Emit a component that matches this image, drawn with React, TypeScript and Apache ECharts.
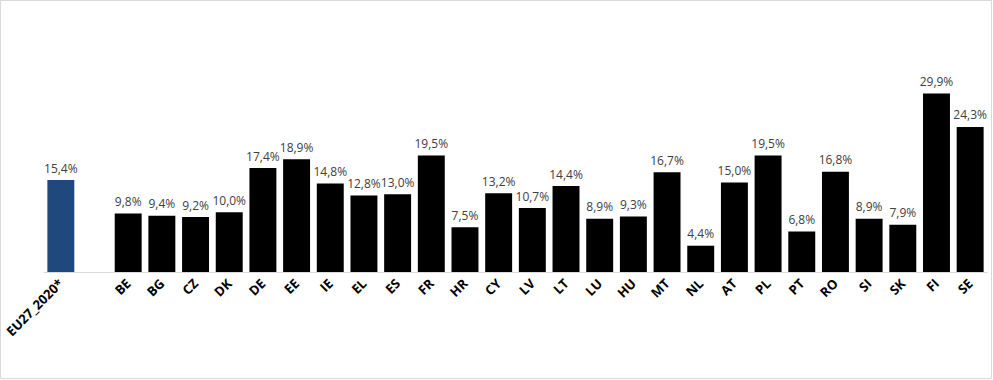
import React, { useEffect, useRef } from "react";
import * as echarts from "echarts";

const categories = ["EU27_2020*", " ", "BE", "BG", "CZ", "DK", "DE", "EE", "IE", "EL", "ES", "FR", "HR", "CY", "LV", "LT", "LU", "HU", "MT", "NL", "AT", "PL", "PT", "RO", "SI", "SK", "FI", "SE"];
const values: (number | null)[] = [15.4, null, 9.8, 9.4, 9.2, 10.0, 17.4, 18.9, 14.8, 12.8, 13.0, 19.5, 7.5, 13.2, 10.7, 14.4, 8.9, 9.3, 16.7, 4.4, 15.0, 19.5, 6.8, 16.8, 8.9, 7.9, 29.9, 24.3];
const highlightIndex = 0;

export default function App() {
  const ref = useRef<HTMLDivElement>(null);
  useEffect(() => {
    if (!ref.current) return;
    const chart = echarts.init(ref.current, undefined, { renderer: "svg" });
    chart.setOption({
      animation: false,
      backgroundColor: "#ffffff",
      grid: { left: 44, right: 6, top: 63, height: 209, containLabel: false },
      xAxis: {
        type: "category",
        data: categories,
        axisLine: { show: true, lineStyle: { color: "#d9d9d9", width: 1 } },
        axisTick: { show: false },
        axisLabel: {
          interval: 0,
          rotate: 45,
          margin: 9,
          color: "#000000",
          fontWeight: "bold",
          fontSize: 13,
          fontFamily: "Open Sans",
        },
      },
      yAxis: {
        type: "value",
        min: 0,
        max: 35,
        show: false,
        splitLine: { show: false },
      },
      graphic: [
        {
          type: "rect",
          shape: { x: 0.5, y: 0.5, width: 991, height: 378 },
          style: { fill: "none", stroke: "#d9d9d9", lineWidth: 1 },
          silent: true,
        },
      ],
      series: [
        {
          type: "bar",
          barCategoryGap: "20%",
          data: values.map((v, i) =>
            v === null
              ? "-"
              : { value: v, itemStyle: { color: i === highlightIndex ? "#1f497d" : "#000000" } }
          ),
          label: {
            show: true,
            position: "top",
            distance: 6,
            color: "#404040",
            fontSize: 12,
            fontFamily: "Open Sans",
            formatter: (p: any) => p.value.toFixed(1).replace(".", ",") + "%",
          },
        },
      ],
    });
    return () => chart.dispose();
  }, []);
  return (
    <div
      ref={ref}
      style={{ position: "fixed", left: 0, top: 0, width: 993, height: 380 }}
    />
  );
}
